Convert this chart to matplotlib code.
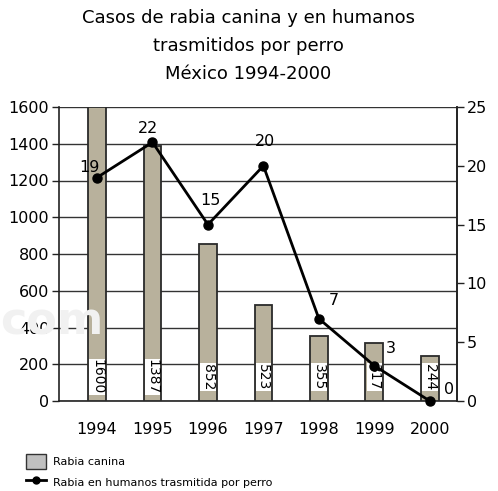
import matplotlib
matplotlib.use("Agg")
import matplotlib.pyplot as plt
from matplotlib.patches import Patch
from matplotlib.lines import Line2D

years = ["1994", "1995", "1996", "1997", "1998", "1999", "2000"]
rabia_canina = [1600, 1387, 852, 523, 355, 317, 244]
rabia_humanos = [19, 22, 15, 20, 7, 3, 0]
left_ticks = [0, 200, 400, 600, 800, 1000, 1200, 1400, 1600]
right_ticks = [0, 5, 10, 15, 20, 25]

title_lines = ["Casos de rabia canina y en humanos", "trasmitidos por perro", "México 1994-2000"]
legend_labels = ["Rabia canina", "Rabia en humanos trasmitida por perro"]

# label offsets in pixels (dx, dy) for the human-case annotations
ann_offsets = [(-8, 10), (-4, 14), (2, 24), (2, 24), (15, 18), (16, 17), (19, 12)]

plt.rcParams['font.family'] = ['DejaVu Sans']

fig = plt.figure(figsize=(4.98, 4.91), dpi=100)
fig.patch.set_facecolor('white')

# watermark
fig.text(0.0, 0.345, "com", fontsize=32, fontweight='bold', color='#f1f1f1',
         ha='left', va='center', zorder=0)

ax = fig.add_axes([59/498, 90/491, 398/498, 294/491])
ax.set_facecolor('none')
x = list(range(len(years)))

ax.bar(x, rabia_canina, width=0.32, color='#b8b19c', edgecolor='#2a2a2a', linewidth=1.3, zorder=3)
ax.set_xlim(-0.685, 6.49)
ax.set_ylim(0, 1600)
ax.set_yticks(left_ticks)
ax.yaxis.grid(True, color='#333333', linewidth=1.0, zorder=1)
ax.set_axisbelow(True)
ax.set_xticks(x)
ax.set_xticklabels(years)
ax.tick_params(axis='x', length=0, pad=15, labelsize=11.5)
ax.tick_params(axis='y', direction='out', length=5, width=1, labelsize=11.5, pad=2, color='#222')
ax.spines['top'].set_visible(False)
for s in ['left', 'right', 'bottom']:
    ax.spines[s].set_color('#222222')
    ax.spines[s].set_linewidth(1.2)

for xi, v in zip(x, rabia_canina):
    ax.text(xi, 130, str(v), rotation=270, ha='center', va='center', fontsize=10,
            bbox=dict(facecolor='white', edgecolor='none', pad=0.5), zorder=4)

ax2 = ax.twinx()
ax2.set_ylim(0, 25)
ax2.set_yticks(right_ticks)
ax2.tick_params(axis='y', direction='out', length=5, width=1, labelsize=11.5, pad=2, color='#222')
for s in ['top', 'left', 'bottom']:
    ax2.spines[s].set_visible(False)
ax2.spines['right'].set_color('#222222')
ax2.spines['right'].set_linewidth(1.2)
ax2.plot(x, rabia_humanos, color='black', linewidth=2, marker='o', markersize=6.5, zorder=5, clip_on=False)
for xi, v, (dx, dy) in zip(x, rabia_humanos, ann_offsets):
    ax2.annotate(str(v), (xi, v), xytext=(dx, dy), textcoords='offset pixels',
                 ha='center', va='center', fontsize=11.5)

for i, line in enumerate(title_lines):
    fig.text(0.498, 1 - (18 + 28 * i) / 491, line, ha='center', va='center', fontsize=13)

handles = [Patch(facecolor='#c0c0c0', edgecolor='#333333', linewidth=1),
           Line2D([], [], color='black', marker='o', markersize=5, linewidth=2)]
fig.legend(handles, legend_labels, loc='upper left', bbox_to_anchor=(22/498, 1 - 450/491),
           frameon=False, fontsize=8, handlelength=1.8, handleheight=1.6, labelspacing=0.55,
           handletextpad=0.6, borderaxespad=0)

fig.savefig("out.png", dpi=100, facecolor='white')
